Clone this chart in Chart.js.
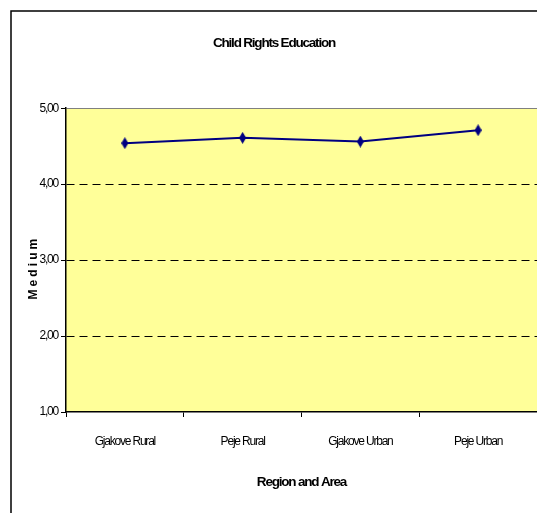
<!DOCTYPE html>
<html>
<head>
<meta charset="utf-8">
<script src="https://cdn.jsdelivr.net/npm/chart.js@4/dist/chart.umd.min.js"></script>
<style>
  html, body { margin: 0; padding: 0; background: #fff; overflow: hidden; }
  #wrap { width: 537px; height: 513px; }
</style>
</head>
<body>
<div id="wrap"><canvas id="medium"></canvas></div>
<script>
var chartTitle = "Child Rights Education";
var regions = ["Gjakove Rural", "Peje Rural", "Gjakove Urban", "Peje Urban"];
var mediumValues = [4.54, 4.61, 4.56, 4.71];
var yTicks = [1, 2, 3, 4, 5];
var xTitle = "Region and Area";
var yTitle = "M  e  d  i  u  m         ";

// no Arial Narrow here, so squeeze Liberation Sans a bit
var FONT = "'Liberation Sans', Arial, sans-serif";
var SQUEEZE = "-1.2px";

// tall diamond marker like the excel one
var marker = document.createElement("canvas");
marker.width = 7;
marker.height = 12;
var mctx = marker.getContext("2d");
mctx.fillStyle = "#000080";
mctx.beginPath();
mctx.moveTo(3.5, 0);
mctx.lineTo(7, 6);
mctx.lineTo(3.5, 12);
mctx.lineTo(0, 6);
mctx.closePath();
mctx.fill();

var frame = {
  id: "frame",
  beforeUpdate: function(chart) { chart.ctx.letterSpacing = SQUEEZE; },
  beforeLayout: function(chart) { chart.ctx.letterSpacing = SQUEEZE; },
  beforeDraw: function(chart) {
    var c = chart.ctx, a = chart.chartArea;
    c.letterSpacing = SQUEEZE;
    c.save();
    c.fillStyle = "#fff";
    c.fillRect(0, 0, chart.width, chart.height);
    c.fillStyle = "#FFFF99";
    c.fillRect(a.left, a.top, a.right - a.left, a.bottom - a.top);
    c.strokeStyle = "#000";
    c.lineWidth = 1.5;
    c.beginPath();
    c.moveTo(11, chart.height);
    c.lineTo(11, 11);
    c.lineTo(chart.width, 11);
    c.stroke();
    c.restore();
  }
};

new Chart(document.getElementById("medium"), {
  type: "line",
  data: {
    labels: regions,
    datasets: [{
      data: mediumValues,
      borderColor: "#000080",
      backgroundColor: "#000080",
      borderWidth: 2,
      tension: 0,
      fill: false,
      pointStyle: marker,
      pointRadius: 6
    }]
  },
  options: {
    responsive: true,
    maintainAspectRatio: false,
    animation: false,
    layout: { autoPadding: false, padding: { top: 11, left: 11, right: 0, bottom: 0 } },
    plugins: {
      legend: { display: false },
      tooltip: { enabled: false },
      title: {
        display: true,
        text: chartTitle,
        color: "#000",
        font: { family: FONT, size: 13.5, weight: "bold" },
        padding: { top: 24, bottom: 57 }
      }
    },
    scales: {
      x: {
        offset: true,
        afterFit: function(s) {
          s.height = 101;
          s.paddingLeft = 0;
          s.paddingRight = 0;
        },
        grid: { offset: true, drawOnChartArea: false, drawTicks: true, tickLength: 5, color: "#000", tickColor: "#000" },
        border: { display: true, color: "#000", width: 1.5 },
        ticks: { color: "#000", padding: 17, maxRotation: 0, font: { family: FONT, size: 12 } },
        title: {
          display: true,
          text: xTitle,
          color: "#000",
          font: { family: FONT, size: 13.5, weight: "bold" },
          padding: { top: 0, bottom: 23 }
        }
      },
      y: {
        min: 1,
        max: 5,
        afterFit: function(s) { s.width = 55; },
        afterBuildTicks: function(s) { s.ticks = yTicks.map(function(v) { return { value: v }; }); },
        grid: {
          drawTicks: true,
          tickLength: 5,
          tickColor: "#000",
          tickBorderDash: [],
          lineWidth: 1,
          color: function(ctx) {
            if (!ctx.tick) return "#000";
            if (ctx.tick.value === 5) return "#808080";
            if (ctx.tick.value === 1) return "rgba(0,0,0,0)";
            return "#000";
          }
        },
        border: {
          display: true,
          color: "#000",
          width: 1.5,
          dash: function(ctx) {
            if (ctx.tick && ctx.tick.value > 1 && ctx.tick.value < 5) return [8, 5];
            return [];
          }
        },
        ticks: {
          color: "#000",
          padding: 3,
          font: { family: FONT, size: 12 },
          callback: function(v) { return v.toFixed(2).replace(".", ","); }
        },
        title: {
          display: true,
          text: yTitle,
          color: "#000",
          font: { family: FONT, size: 12, weight: "bold" },
          padding: { top: 15, bottom: 0 }
        }
      }
    }
  },
  plugins: [frame]
});
</script>
</body>
</html>
